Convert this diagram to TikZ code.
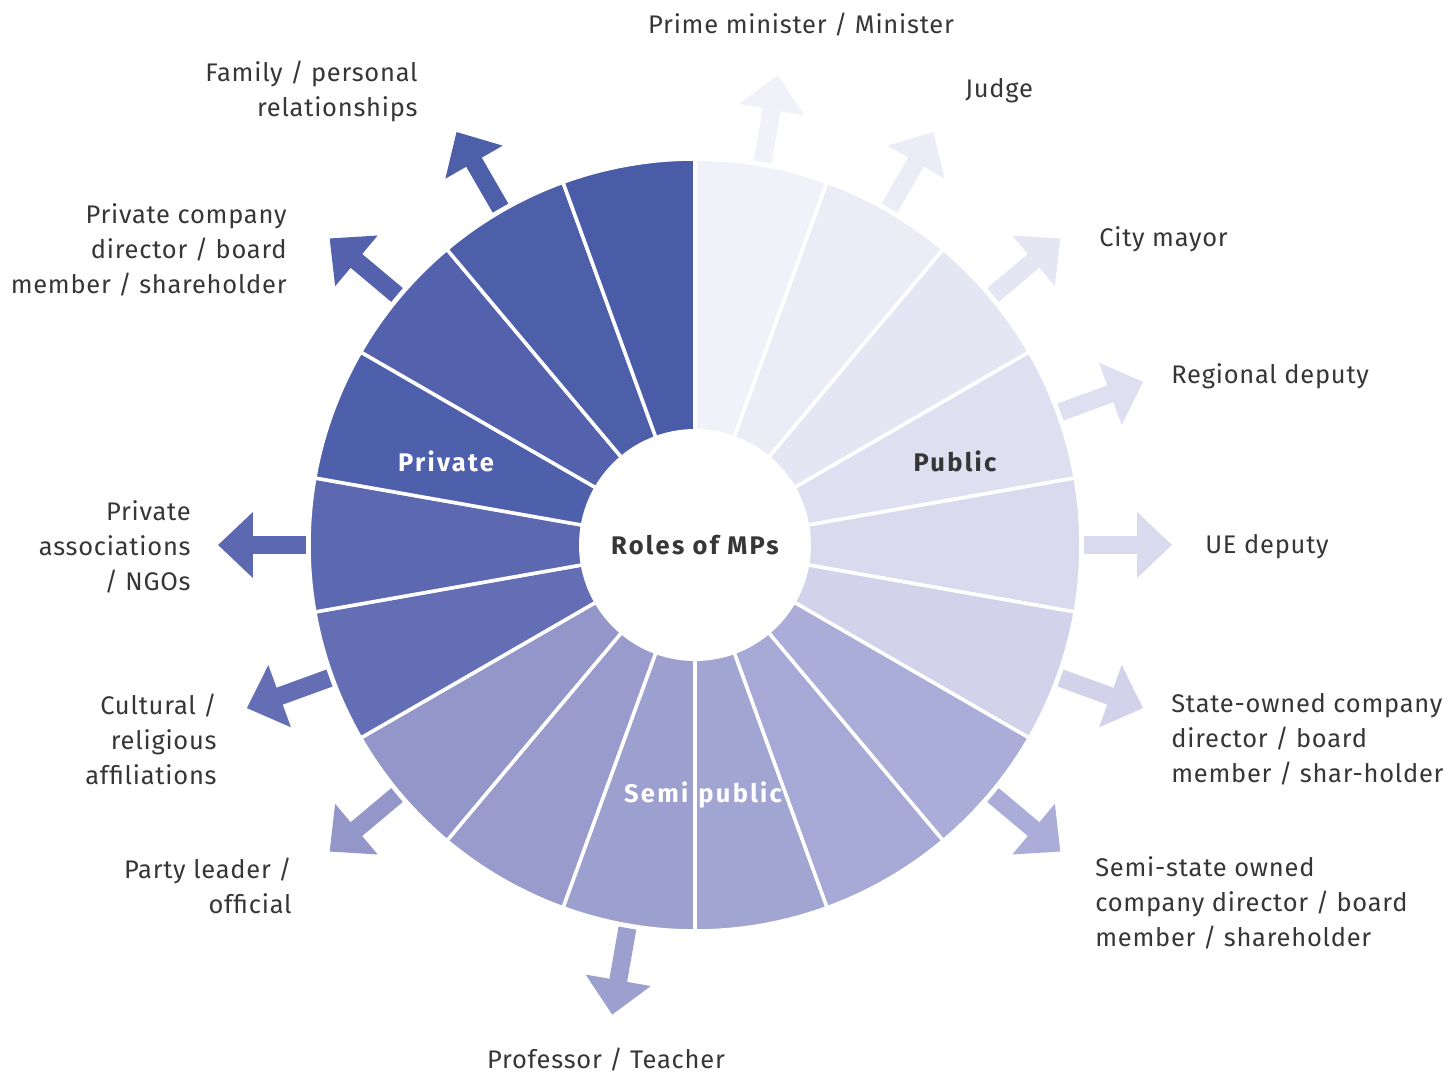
\documentclass[tikz,border=0pt]{standalone}
\usepackage{fontspec}
\setmainfont{Fira Sans}[LetterSpace=3, BoldFeatures={LetterSpace=9}]
\usetikzlibrary{arrows.meta}
\definecolor{pubA}{HTML}{F1F2F9}
\definecolor{pubB}{HTML}{EBECF6}
\definecolor{pubC}{HTML}{E5E6F3}
\definecolor{pubD}{HTML}{DEDFF0}
\definecolor{pubE}{HTML}{D9DAEE}
\definecolor{pubF}{HTML}{D2D3EA}
\definecolor{semiA}{HTML}{A9ADD7}
\definecolor{semiB}{HTML}{A6A9D5}
\definecolor{semiC}{HTML}{A1A5D2}
\definecolor{semiD}{HTML}{9CA0CF}
\definecolor{semiE}{HTML}{989BCC}
\definecolor{semiF}{HTML}{9396C9}
\definecolor{privA}{HTML}{636EB4}
\definecolor{privB}{HTML}{5C69B0}
\definecolor{privC}{HTML}{4E5FAB}
\definecolor{privD}{HTML}{5462AD}
\definecolor{privE}{HTML}{4E5FAA}
\definecolor{privF}{HTML}{4A5CA8}
\definecolor{txt}{HTML}{363636}

\begin{document}
\begin{tikzpicture}[
        x=0.02cm, y=0.02cm,
        every node/.style={font=\fontsize{14.5}{19.9}\selectfont, text=txt, inner sep=0pt},
        sector/.style={draw=white, line width=2pt},
        rolearrow/.style={line width=0.36cm, -{Triangle[width=1.28cm, length=0.7cm]}},
        role/.style={align=left, anchor=west},
        roleR/.style={align=right, anchor=east},
        group/.style={font=\fontsize{14.5}{19.9}\selectfont\bfseries}
        ]
        \useasboundingbox (-695,-530) rectangle (758,545);

        % wheel, clockwise from the top
        \foreach \c [count=\i from 0] in {pubA,pubB,pubC,pubD,pubE,pubF,
                semiA,semiB,semiC,semiD,semiE,semiF,
                privA,privB,privC,privD,privE,privF}{
            \pgfmathsetmacro\sa{90-20*\i}
            \filldraw[sector, fill=\c] (\sa:100) -- (\sa:386)
                arc[start angle=\sa, delta angle=-20, radius=386] -- ({\sa-20}:100) -- cycle;
        }

        % arrows
        \foreach \a/\c in {10/pubA, 30/pubB, 50/pubC, 70/pubD, 90/pubE, 110/pubF,
                130/semiA, 190/semiD, 230/semiF,
                250/privA, 270/privB, 310/privD, 330/privE}{
            \coordinate (s\a) at ({90-\a}:389);
            \coordinate (t\a) at ({90-\a}:477);
            \draw[rolearrow, draw=\c, fill=\c] (s\a) -- (t\a);
        }

        \node[circle, fill=white, minimum size=4.64cm, group] (roles) at (0,0) {Roles of MPs};

        \node[group, text=white] (private) at (-249,84) {Private};
        \node[group] (public) at (260,84) {Public};
        \node[group, text=white] (semipublic) at (8,-250) {Semi\hspace{0.4em}public};

        % roles
        \node (prime) at (106,520) {Prime minister / Minister};
        \node[role] (judge) at (270,454) {Judge};
        \node[role] (mayor) at (404,306) {City mayor};
        \node[role] (regional) at (476,169) {Regional deputy};
        \node[role] (ue) at (510,-2) {UE deputy};
        \node[role] (state) at (476,-194) {State-owned company\\director / board\\member / shar-holder};
        \node[role] (semistate) at (400,-358) {Semi-state owned\\company director / board\\member / shareholder};
        \node (prof) at (-89,-515) {Professor / Teacher};
        \node[roleR] (party) at (-403,-341) {Party leader /\\official};
        \node[roleR] (cultural) at (-478,-194) {Cultural /\\religious\\affiliations};
        \node[roleR] (ngo) at (-504,-2) {Private\\associations\\/ NGOs};
        \node[roleR] (pcompany) at (-408,295) {Private company\\director / board\\member / shareholder};
        \node[roleR] (family) at (-277,454) {Family / personal\\relationships};
    \end{tikzpicture}
\end{document}
